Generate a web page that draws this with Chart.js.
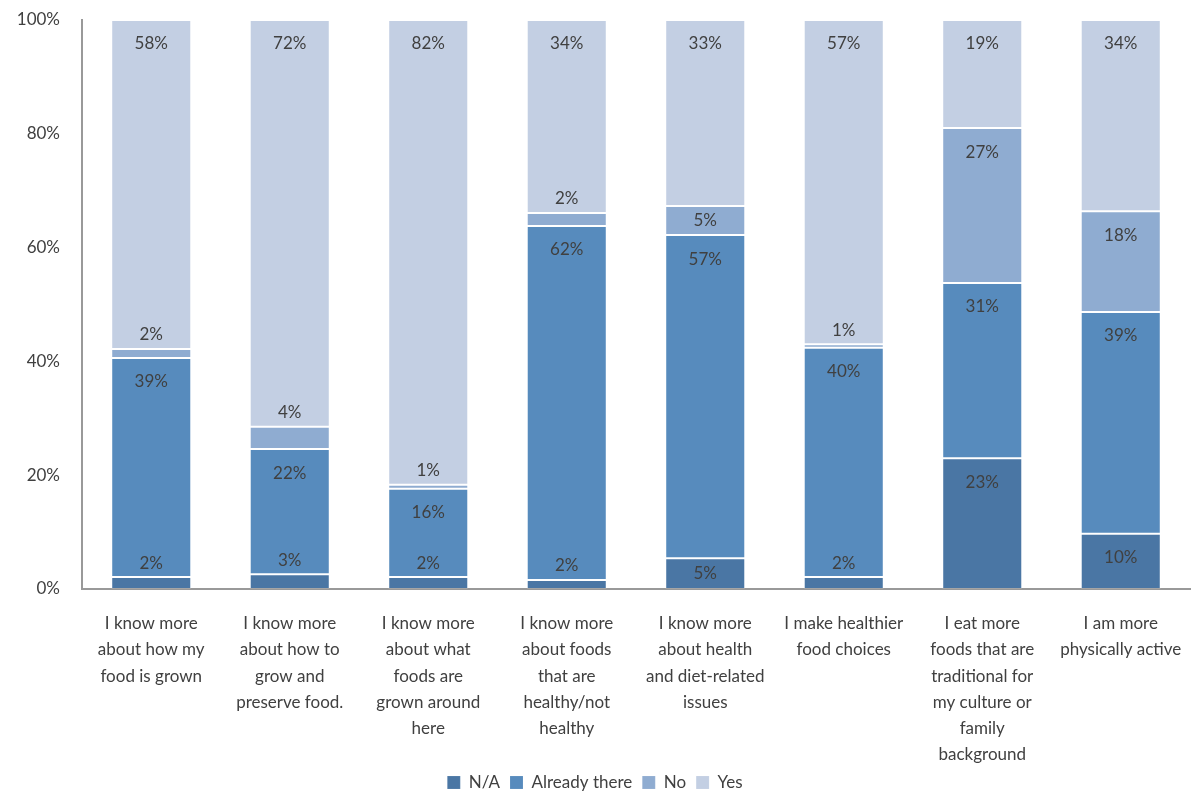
<!DOCTYPE html>
<html>
<head>
<meta charset="utf-8">
<script src="https://cdn.jsdelivr.net/npm/chart.js@4/dist/chart.umd.min.js"></script>
<style>
html,body{margin:0;padding:0;background:#fff;}
#wrap{width:1203px;height:792px;position:relative;}
</style>
</head>
<body>
<div id="wrap"><canvas id="c" width="1203" height="792"></canvas></div>
<script>
const categories = [
  ["I know more","about how my","food is grown"],
  ["I know more","about how to","grow and","preserve food."],
  ["I know more","about what","foods are","grown around","here"],
  ["I know more","about foods","that are","healthy/not","healthy"],
  ["I know more","about health","and diet-related","issues"],
  ["I make healthier","food choices"],
  ["I eat more","foods that are","traditional for","my culture or","family","background"],
  ["I am more","physically active"]
];
const seriesNames = ["N/A","Already there","No","Yes"];
const naValues      = [2.1, 2.6, 2.1, 1.6, 5.4, 2.1, 23.0, 9.7];
const alreadyValues = [38.5, 22.0, 15.5, 62.2, 56.8, 40.3, 30.8, 39.0];
const noValues      = [1.6, 3.9, 0.7, 2.3, 5.1, 0.6, 27.2, 17.7];
const yesValues     = [57.8, 71.5, 81.7, 33.9, 32.7, 57.0, 19.0, 33.6];
const yTicks = [0, 20, 40, 60, 80, 100];

const colors = ["#4a76a4", "#578bbd", "#8facd1", "#c3cfe3"];
const FONT = "Lato, 'Open Sans', sans-serif";

const labelPlugin = {
  id: 'segLabels',
  afterDatasetsDraw(chart) {
    const ctx = chart.ctx;
    ctx.save();
    ctx.font = "17px " + FONT;
    ctx.fillStyle = "#404040";
    ctx.textAlign = "center";
    ctx.textBaseline = "middle";
    chart.data.datasets.forEach((ds, di) => {
      const meta = chart.getDatasetMeta(di);
      meta.data.forEach((el, i) => {
        const top = Math.min(el.y, el.base);
        const h = Math.abs(el.base - el.y);
        let cy;
        if (h >= 40) cy = top + 24;
        else if (h >= 25) cy = top + h / 2;
        else cy = top - 14;
        ctx.fillText(Math.round(ds.data[i]) + "%", el.x, cy);
      });
    });
    ctx.restore();
  }
};

const datasets = [naValues, alreadyValues, noValues, yesValues].map((vals, k) => ({
  label: seriesNames[k],
  data: vals,
  backgroundColor: colors[k],
  borderColor: "rgba(255,255,255,0.12)",
  borderWidth: 1,
  borderSkipped: false,
  categoryPercentage: 1.0,
  barPercentage: 0.578
}));

new Chart(document.getElementById('c'), {
  type: 'bar',
  data: { labels: categories, datasets },
  options: {
    responsive: false,
    animation: false,
    layout: { padding: { top: 20, right: 13, left: 0, bottom: 0 } },
    plugins: {
      legend: {
        position: 'bottom',
        maxHeight: 28,
        labels: {
          font: { family: FONT, size: 17 },
          color: "#404040",
          boxWidth: 13,
          boxHeight: 13,
          padding: 10
        }
      },
      tooltip: { enabled: false }
    },
    scales: {
      x: {
        stacked: true,
        afterFit(scale) { scale.height = 175; scale.paddingLeft = 0; scale.paddingRight = 0; },
        grid: { display: false, drawTicks: false },
        border: { display: true, color: "#999999", width: 2 },
        ticks: {
          font: { family: FONT, size: 17, lineHeight: 1.53 },
          color: "#404040",
          padding: 22,
          maxRotation: 0,
          autoSkip: false
        }
      },
      y: {
        stacked: true,
        min: 0,
        max: 100,
        afterBuildTicks(scale) { scale.ticks = yTicks.map(v => ({ value: v })); },
        afterFit(scale) { scale.width = 82; scale.paddingTop = 0; scale.paddingBottom = 0; },
        grid: { display: false, drawTicks: false },
        border: { display: true, color: "#999999", width: 2 },
        ticks: {
          font: { family: FONT, size: 17 },
          color: "#404040",
          padding: 22,
          callback: v => v + "%"
        }
      }
    }
  },
  plugins: [labelPlugin]
});
</script>
</body>
</html>
